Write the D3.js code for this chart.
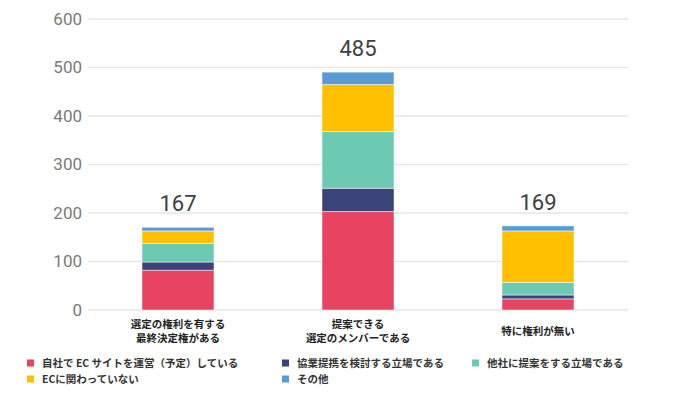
<!DOCTYPE html>
<html><head><meta charset="utf-8">
<script src="https://cdn.jsdelivr.net/npm/d3@7"></script>
<style>body{margin:0;background:#fff}svg{display:block}</style>
</head><body>
<svg id="c" width="697" height="393"></svg>
<script>
const categories = [["選定の権利を有する","最終決定権がある"],["提案できる","選定のメンバーである"],["特に権利が無い"]];
const seriesNames = ["自社で EC サイトを運営（予定）している","協業提携を検討する立場である","他社に提案をする立場である","ECに関わっていない","その他"];
const seriesColors = ["#E84360","#3B4478","#6CC9B2","#FFC000","#5B9BD5"];
const ecOwn = [82, 203, 23];
const alliance = [17, 48, 8];
const propose = [38.5, 117, 26];
const notInvolved = [25.5, 97, 106];
const other = [7.5, 25.5, 10.5];
const totals = ["167","485","169"];
const yTicks = [0,100,200,300,400,500,600];

const series = [ecOwn, alliance, propose, notInvolved, other];
const rows = categories.map((c,i)=>{const r={idx:i}; series.forEach((s,k)=>r["s"+k]=s[i]); return r;});
const keys = series.map((s,k)=>"s"+k);
const stacked = d3.stack().keys(keys)(rows);

const svg = d3.select("#c");
const x = d3.scaleBand().domain(d3.range(categories.length)).range([88,628]).paddingInner(0.6).paddingOuter(0.3);
const y = d3.scaleLinear().domain([0,600]).range([310,19]);

// grid
svg.append("g").selectAll("line").data(yTicks).join("line")
  .attr("x1",88).attr("x2",628).attr("y1",d=>y(d)).attr("y2",d=>y(d))
  .attr("stroke","#e6e6e6").attr("stroke-width",1.5);

// y axis labels
const ya = svg.append("g").attr("transform","translate(82,0)")
  .call(d3.axisLeft(y).tickValues(yTicks).tickSize(0).tickPadding(0));
ya.select(".domain").remove();
ya.selectAll("text").attr("font-family","Roboto, sans-serif").attr("font-size",17).attr("fill","#7a7a7a");

// bars
svg.append("g").selectAll("g").data(stacked).join("g")
  .attr("fill",(d,i)=>seriesColors[i])
  .selectAll("rect").data(d=>d).join("rect")
  .attr("x",d=>x(d.data.idx)).attr("width",x.bandwidth())
  .attr("y",d=>y(d[1])).attr("height",d=>y(d[0])-y(d[1]))
  .attr("stroke","rgba(255,255,255,0.5)").attr("stroke-width",1);

// totals
const tops = rows.map((r,i)=>d3.sum(series,s=>s[i]));
svg.append("g").selectAll("text").data(totals).join("text")
  .attr("x",(d,i)=>x(i)+x.bandwidth()/2).attr("y",(d,i)=>y(tops[i])-16)
  .attr("text-anchor","middle").attr("font-family","Roboto, sans-serif")
  .attr("font-size",22).attr("fill","#404040").text(d=>d);

// x labels
const xl = svg.append("g").selectAll("text").data(categories).join("text")
  .attr("text-anchor","middle").attr("font-family","'Noto Sans CJK JP', sans-serif")
  .attr("font-weight","bold").attr("font-size",10.5).attr("fill","#222")
  .attr("transform",(d,i)=>`translate(${x(i)+x.bandwidth()/2},${d.length>1?328:335})`);
xl.selectAll("tspan").data(d=>d).join("tspan").attr("x",0).attr("dy",(d,j)=>j?13.5:0).text(d=>d);

// legend
const legPos = [[27,363],[282,363],[472,363],[27,379],[282,379]];
const lg = svg.append("g").selectAll("g").data(seriesNames).join("g")
  .attr("transform",(d,i)=>`translate(${legPos[i][0]},${legPos[i][1]})`);
lg.append("rect").attr("x",0).attr("y",-3.5).attr("width",7).attr("height",7).attr("fill",(d,i)=>seriesColors[i]);
lg.append("text").attr("x",15).attr("y",0).attr("dy","0.35em")
  .attr("font-family","'Noto Sans CJK JP', sans-serif").attr("font-weight","bold")
  .attr("font-size",10.5).attr("fill","#333").text(d=>d);
</script>
</body></html>
